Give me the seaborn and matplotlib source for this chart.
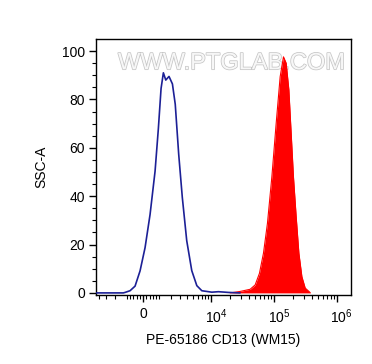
import numpy as np
import pandas as pd
import matplotlib
matplotlib.use("Agg")
import matplotlib.pyplot as plt
import matplotlib.patheffects as pe
from matplotlib.transforms import ScaledTranslation
import seaborn as sns

# ---- data (fluorescence intensity, % of max) ----
ctrl_x = [-4400, -1300, -1170, -817, -491, -182, 121, 428, 750, 976, 1170, 1346, 1539,
          1818, 2140, 2432, 2823, 3283, 3925, 4783, 5808, 7022, 10200, 13020,
          18830, 28900]
ctrl_y = [0, 0, 0.2, 0.9, 2.8, 9.1, 18.7, 32.4, 50.3, 68, 84.5, 91, 88,
          89.5, 86.4, 78, 57.4, 39.5, 21.6, 9.2, 3, 0.9, 0.3, 0.5,
          0.2, 0]

cd13_x = [20050, 28900, 41860, 50280, 58870, 68180, 78940, 92800, 108600,
          125800, 142100, 156800, 173100, 188400, 204900, 226400, 250100,
          279200, 315200, 378800]
cd13_y = [0, 0.6, 1.5, 3.3, 8.1, 16.4, 28.8, 48, 70,
          89.4, 97.6, 95, 84, 66, 48, 31.5, 16.4,
          6.7, 2, 0.1]

major_ticks = [0, 1e4, 1e5, 1e6]
major_labels = ["0", "$10^4$", "$10^5$", "$10^6$"]
y_ticks = [0, 20, 40, 60, 80, 100]

x_label = "PE-65186 CD13 (WM15)"
y_label = "SSC-A"
watermark = "WWW.PTGLAB.COM"

# ---- biexponential-like scale ----
W = 1650.0
LN10 = np.log(10)

def fwd(x):
    return np.arcsinh(np.asarray(x, dtype=float) / W) / LN10

def inv(y):
    return W * np.sinh(np.asarray(y, dtype=float) * LN10)

sns.set_style("ticks")
plt.rcParams["font.family"] = ["Liberation Sans", "DejaVu Sans"]
plt.rcParams["mathtext.fontset"] = "custom"
plt.rcParams["mathtext.rm"] = "Liberation Sans"
plt.rcParams["mathtext.it"] = "Liberation Sans"

fig = plt.figure(figsize=(3.72, 3.64), dpi=100)
ax = fig.add_axes([0.258, 0.19, 0.686, 0.703])
ax.set_xscale("function", functions=(fwd, inv))

ctrl = pd.DataFrame({"x": ctrl_x, "y": ctrl_y})
cd13 = pd.DataFrame({"x": cd13_x, "y": cd13_y})

ax.fill_between(cd13["x"], 0, cd13["y"], color="#ff0000", lw=0, zorder=2)
sns.lineplot(data=cd13, x="x", y="y", color="#ff0000", lw=0.8, estimator=None,
             sort=False, ax=ax, zorder=3)
sns.lineplot(data=ctrl, x="x", y="y", color="#1c2096", lw=1.2, estimator=None,
             sort=False, ax=ax, zorder=4)

ax.set_xlim(-4490, 1.70e6)
ax.set_ylim(-0.8, 105)

# ticks
ax.set_xticks(major_ticks)
ax.set_xticklabels(major_labels)
minor = list(range(-4000, 0, 1000)) + list(range(-800, 0, 200)) + \
        list(range(200, 1000, 200)) + list(range(1000, 10000, 1000)) + \
        list(range(20000, 100000, 10000)) + list(range(200000, 1000000, 100000))
ax.set_xticks(minor, minor=True)
ax.set_yticks(y_ticks)
ax.set_yticks(np.arange(0, 105, 5), minor=True)

ax.tick_params(axis="both", which="major", direction="out", length=5, width=1,
               color="black", labelsize=10, labelcolor="black")
ax.tick_params(axis="both", which="minor", direction="out", length=3, width=0.8,
               color="black")
ax.tick_params(axis="x", which="major", pad=4)
ax.tick_params(axis="y", which="major", pad=3)

# shift power labels so "10" sits over the tick
for lbl in ax.get_xticklabels()[1:]:
    lbl.set_transform(lbl.get_transform() + ScaledTranslation(5 / 100, 0, fig.dpi_scale_trans))

for s in ax.spines.values():
    s.set_visible(True)
    s.set_color("black")
    s.set_linewidth(1.0)

ax.set_xlabel(x_label, fontsize=10, labelpad=5, color="black")
ax.set_ylabel(y_label, fontsize=10, labelpad=10, color="black")

ax.text(0.53, 0.905, watermark, transform=ax.transAxes, ha="center", va="center",
        fontsize=17, color="#f7f7f7", zorder=1,
        path_effects=[pe.withStroke(linewidth=1.1, foreground="#c6c6c6")])

fig.savefig("out.png", dpi=100)
